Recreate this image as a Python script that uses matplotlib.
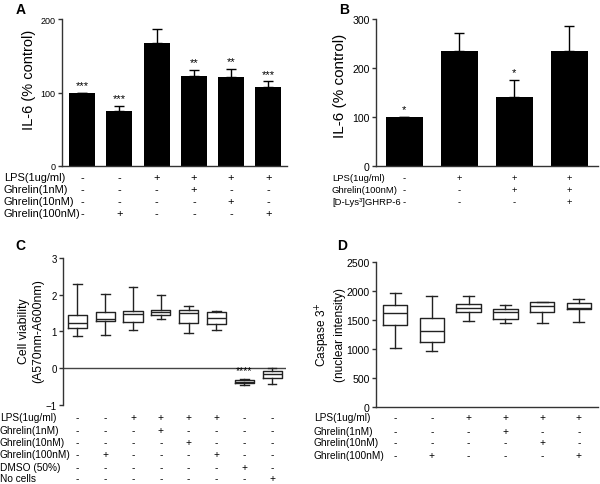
import matplotlib
matplotlib.use("Agg")
import matplotlib.pyplot as plt
from matplotlib.transforms import blended_transform_factory

plt.rcParams["font.family"] = ["Liberation Sans", "DejaVu Sans"]

W, H = 600, 485

# Panel A: IL-6 (% control)
a_vals = [100, 75, 168, 122, 121, 108]
a_err = [0, 7, 19, 9, 11, 7]
a_stars = ["***", "***", "", "**", "**", "***"]
a_rows = ["LPS(1ug/ml)", "Ghrelin(1nM)", "Ghrelin(10nM)", "Ghrelin(100nM)"]
a_signs = [list("--++++"), list("---+--"), list("----+-"), list("-+---+")]

# Panel B: IL-6 (% control) with antagonist
b_vals = [100, 234, 141, 235]
b_err = [0, 38, 35, 51]
b_stars = ["*", "", "*", ""]
b_rows = ["LPS(1ug/ml)", "Ghrelin(100nM)", "[D-Lys³]GHRP-6"]
b_signs = [list("-+++"), list("--++"), list("---+")]

# Panel C: cell viability boxes (whisker low, q1, median, q3, whisker high)
c_low = [0.86, 0.89, 1.04, 1.33, 0.95, 1.05, -0.46, -0.43]
c_q1 = [1.09, 1.27, 1.25, 1.45, 1.23, 1.20, -0.42, -0.26]
c_med = [1.24, 1.33, 1.46, 1.52, 1.49, 1.37, -0.37, -0.15]
c_q3 = [1.44, 1.52, 1.56, 1.57, 1.59, 1.54, -0.34, -0.09]
c_high = [2.30, 2.03, 2.21, 1.98, 1.68, 1.56, -0.29, -0.01]
c_stars = ["", "", "", "", "", "", "****", ""]
c_rows = ["LPS(1ug/ml)", "Ghrelin(1nM)", "Ghrelin(10nM)", "Ghrelin(100nM)",
          "DMSO (50%)", "No cells"]
c_signs = [list("--++++--"), list("---+----"), list("----+---"),
           list("-+---+--"), list("------+-"), list("-------+")]

# Panel D: caspase 3+ nuclear intensity boxes
d_low = [1022, 961, 1492, 1458, 1458, 1460]
d_q1 = [1424, 1115, 1640, 1520, 1635, 1691]
d_med = [1617, 1321, 1708, 1640, 1743, 1703]
d_q3 = [1767, 1544, 1784, 1691, 1818, 1801]
d_high = [1961, 1914, 1914, 1760, 1818, 1863]
d_rows = ["LPS(1ug/ml)", "Ghrelin(1nM)", "Ghrelin(10nM)", "Ghrelin(100nM)"]
d_signs = [list("--++++"), list("---+--"), list("----+-"), list("-+---+")]

SPINE = "#333333"


def add_ax(fig, left, top, right, bottom):
    return fig.add_axes([left / W, 1 - bottom / H, (right - left) / W, (bottom - top) / H])


def style(ax, tick_size, bottom=True):
    for side in ("top", "right"):
        ax.spines[side].set_visible(False)
    ax.spines["bottom"].set_visible(bottom)
    for side in ("left", "bottom"):
        ax.spines[side].set_color(SPINE)
        ax.spines[side].set_linewidth(1.0)
    ax.set_xticks([])
    ax.tick_params(axis="y", direction="out", length=3, width=1, color=SPINE,
                   labelsize=tick_size, pad=1.5)


def sign_table(fig, ax, rows, signs, text_x, row_y, size):
    tr = blended_transform_factory(ax.transData, fig.transFigure)
    for label, marks, y in zip(rows, signs, row_y):
        fig.text(text_x / W, 1 - y / H, label, ha="left", va="center", fontsize=size)
        for i, m in enumerate(marks):
            ax.text(i, 1 - y / H, m, transform=tr, ha="center", va="center", fontsize=size)


def bar_panel(ax, vals, err, stars, width, star_size):
    x = range(len(vals))
    ax.bar(x, vals, width=width, color="black", zorder=2)
    ax.errorbar(x, vals, yerr=[[0] * len(vals), err], fmt="none", ecolor="black",
                elinewidth=1, capsize=3.5, capthick=1, zorder=1)
    for i, (v, e, s) in enumerate(zip(vals, err, stars)):
        if s:
            ax.annotate(s, (i, v + e), xytext=(0, 2), textcoords="offset points",
                        ha="center", va="bottom", fontsize=star_size)


def box_panel(ax, low, q1, med, q3, high, width):
    stats = [dict(whislo=a, q1=b, med=c, q3=d, whishi=e, fliers=[])
             for a, b, c, d, e in zip(low, q1, med, q3, high)]
    lw = 1.0
    col = "#222222"
    ax.bxp(stats, positions=range(len(stats)), widths=width, showfliers=False,
           boxprops=dict(color=col, linewidth=lw),
           medianprops=dict(color=col, linewidth=lw),
           whiskerprops=dict(color=col, linewidth=lw),
           capprops=dict(color=col, linewidth=lw),
           capwidths=width * 0.45, manage_ticks=False)


fig = plt.figure(figsize=(W / 100, H / 100), dpi=100)

# ---- A ----
ax = add_ax(fig, 62, 20, 287, 167)
bar_panel(ax, a_vals, a_err, a_stars, 0.7, 8)
ax.set_xlim(-0.54, 5.5)
ax.set_ylim(0, 200)
ax.set_yticks([0, 100, 200])
style(ax, 6.5)
fig.text(29 / W, 1 - 80 / H, "IL-6 (% control)", rotation=90, ha="center", va="center",
         fontsize=10.5)
sign_table(fig, ax, a_rows, a_signs, 4, [178.3, 190.3, 202, 214], 7.9)
fig.text(21 / W, 1 - 10.5 / H, "A", ha="center", va="center", fontsize=10, fontweight="bold")

# ---- B ----
ax = add_ax(fig, 376, 20, 598, 167)
bar_panel(ax, b_vals, b_err, b_stars, 0.67, 8)
ax.set_xlim(-0.51, 3.52)
ax.set_ylim(0, 300)
ax.set_yticks([0, 100, 200, 300])
style(ax, 7.6)
fig.text(340 / W, 1 - 86 / H, "IL-6 (% control)", rotation=90, ha="center", va="center",
         fontsize=11)
sign_table(fig, ax, b_rows, b_signs, 332, [178.3, 191, 202.5], 6.8)
fig.text(344 / W, 1 - 10.5 / H, "B", ha="center", va="center", fontsize=10, fontweight="bold")

# ---- C ----
ax = add_ax(fig, 63, 259, 286, 405.7)
box_panel(ax, c_low, c_q1, c_med, c_q3, c_high, 0.69)
ax.axhline(0, color="#444444", linewidth=1.0, zorder=0)
for i, s in enumerate(c_stars):
    if s:
        ax.annotate(s, (i, c_high[i]), xytext=(0, 2.5), textcoords="offset points",
                    ha="center", va="bottom", fontsize=7.5)
ax.set_xlim(-0.52, 7.5)
ax.set_ylim(-1, 3)
ax.set_yticks([-1, 0, 1, 2, 3])
style(ax, 7, bottom=False)
fig.text(31 / W, 1 - 331.5 / H, "Cell viability\n(A570nm-A600nm)", rotation=90,
         ha="center", va="center", fontsize=8.8, linespacing=1.25)
sign_table(fig, ax, c_rows, c_signs, 0, [418.3, 431, 442.7, 455, 467.7, 479.3], 7.3)
fig.text(20 / W, 1 - 246 / H, "C", ha="center", va="center", fontsize=10, fontweight="bold")

# ---- D ----
ax = add_ax(fig, 376, 263, 598, 408.3)
box_panel(ax, d_low, d_q1, d_med, d_q3, d_high, 0.67)
ax.set_xlim(-0.52, 5.52)
ax.set_ylim(0, 2500)
ax.set_yticks([0, 500, 1000, 1500, 2000, 2500])
style(ax, 7.6)
fig.text(330 / W, 1 - 335 / H, "Caspase 3$^{+}$\n(nuclear intensity)", rotation=90,
         ha="center", va="center", fontsize=8.6, linespacing=1.2)
sign_table(fig, ax, d_rows, d_signs, 314, [418.3, 431.7, 442.7, 455.7], 7.3)
fig.text(342 / W, 1 - 246 / H, "D", ha="center", va="center", fontsize=10, fontweight="bold")

fig.savefig("out.png", dpi=100)
